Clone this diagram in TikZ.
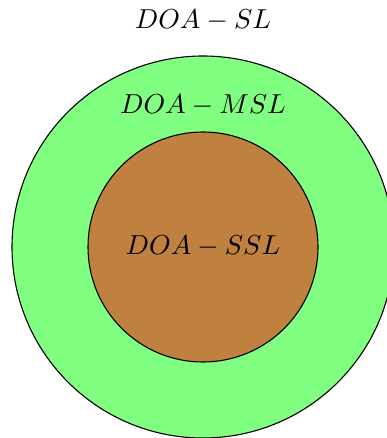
\documentclass[tikz,border=0pt]{standalone}
\begin{document}
\begin{tikzpicture}[x=1pt,y=-1pt,
  ring/.style={draw=black,line width=1.1pt},
  lbl/.style={scale=2.74,inner sep=0pt}]
\useasboundingbox (0,0) rectangle (387,438);
\path[ring,fill=green!50] (203,247) circle[radius=191];
\path[ring,fill=brown] (203,247) circle[radius=115];
\node[lbl] (sl) at (203,20) {$DOA-SL$};
\node[lbl] (msl) at (203,105) {$DOA-MSL$};
\node[lbl] (ssl) at (203,246) {$DOA-SSL$};
\end{tikzpicture}
\end{document}
